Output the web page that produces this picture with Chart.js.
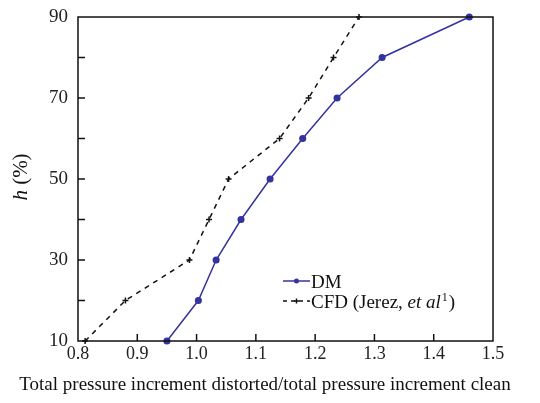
<!DOCTYPE html>
<html><head><meta charset="utf-8">
<script src="https://cdn.jsdelivr.net/npm/chart.js@4/dist/chart.umd.min.js"></script>
<style>html,body{margin:0;padding:0;background:#fff}#wrap{width:540px;height:403px}</style>
</head><body><div id="wrap"><canvas id="c" width="540" height="403"></canvas></div>
<script>
// Data
const hLevels = [10, 20, 30, 40, 50, 60, 70, 80, 90];
const dmX  = [0.950, 1.003, 1.033, 1.075, 1.124, 1.179, 1.237, 1.313, 1.460];
const cfdX = [0.812, 0.880, 0.988, 1.021, 1.054, 1.140, 1.189, 1.231, 1.274];
const yLabelTicks = [10, 30, 50, 70, 90];
const xTitle = 'Total pressure increment distorted/total pressure increment clean';
const dmLabel = 'DM';
const cfdLabelParts = ['CFD (Jerez, ', 'et al', '1', ')'];

const SERIF = '"Liberation Serif", "Times New Roman", serif';
const DM_COLOR = '#3434a0';
const CFD_COLOR = '#111111';

const toPts = (xs) => xs.map((x, i) => ({ x: x, y: hLevels[i] }));

const decor = {
  id: 'decor',
  afterDraw(chart) {
    const ctx = chart.ctx;
    const { left, right, top, bottom } = chart.chartArea;
    const xs = chart.scales.x, ys = chart.scales.y;
    ctx.save();
    // frame
    ctx.strokeStyle = '#111';
    ctx.lineWidth = 1.5;
    ctx.strokeRect(left, top, right - left, bottom - top);
    // inward ticks
    xs.ticks.forEach(t => {
      const px = xs.getPixelForValue(t.value);
      if (Math.abs(px - left) < 2 || Math.abs(px - right) < 2) return;
      ctx.beginPath(); ctx.moveTo(px, bottom); ctx.lineTo(px, bottom - 7); ctx.stroke();
    });
    ys.ticks.forEach(t => {
      const py = ys.getPixelForValue(t.value);
      if (Math.abs(py - top) < 2 || Math.abs(py - bottom) < 2) return;
      ctx.beginPath(); ctx.moveTo(left, py); ctx.lineTo(left + 7, py); ctx.stroke();
    });
    // x title
    ctx.fillStyle = '#111';
    ctx.font = '19px ' + SERIF;
    ctx.textAlign = 'center';
    ctx.textBaseline = 'middle';
    ctx.fillText(xTitle, 265, 385);
    // y title: italic h + " (%)"
    ctx.save();
    ctx.translate(21, 177);
    ctx.rotate(-Math.PI / 2);
    ctx.textAlign = 'left';
    ctx.font = 'italic 21px ' + SERIF;
    const wH = ctx.measureText('h').width;
    ctx.font = '21px ' + SERIF;
    const wRest = ctx.measureText(' (%)').width;
    let sx = -(wH + wRest) / 2;
    ctx.font = 'italic 21px ' + SERIF;
    ctx.fillText('h', sx, 0);
    ctx.font = '21px ' + SERIF;
    ctx.fillText(' (%)', sx + wH, 0);
    ctx.restore();
    // legend
    const lx0 = 283, lx1 = 310, ly1 = 281, ly2 = 301;
    ctx.strokeStyle = DM_COLOR; ctx.lineWidth = 1.5; ctx.setLineDash([]);
    ctx.beginPath(); ctx.moveTo(lx0, ly1); ctx.lineTo(lx1, ly1); ctx.stroke();
    ctx.fillStyle = DM_COLOR;
    ctx.beginPath(); ctx.arc((lx0 + lx1) / 2, ly1, 2.5, 0, Math.PI * 2); ctx.fill();
    ctx.strokeStyle = CFD_COLOR; ctx.setLineDash([4, 4]);
    ctx.beginPath(); ctx.moveTo(lx0, ly2); ctx.lineTo(lx1, ly2); ctx.stroke();
    ctx.setLineDash([]);
    const cx = (lx0 + lx1) / 2;
    ctx.beginPath(); ctx.moveTo(cx - 2.5, ly2); ctx.lineTo(cx + 2.5, ly2);
    ctx.moveTo(cx, ly2 - 2.5); ctx.lineTo(cx, ly2 + 2.5); ctx.stroke();
    ctx.fillStyle = '#111';
    ctx.textAlign = 'left'; ctx.textBaseline = 'alphabetic';
    ctx.font = '19px ' + SERIF;
    ctx.fillText(dmLabel, 311, ly1 + 7);
    let tx = 311;
    const by = ly2 + 7;
    ctx.font = '19px ' + SERIF; ctx.fillText(cfdLabelParts[0], tx, by); tx += ctx.measureText(cfdLabelParts[0]).width;
    ctx.font = 'italic 19px ' + SERIF; ctx.fillText(cfdLabelParts[1], tx, by); tx += ctx.measureText(cfdLabelParts[1]).width;
    ctx.font = '12px ' + SERIF; ctx.fillText(cfdLabelParts[2], tx + 1, by - 7); tx += ctx.measureText(cfdLabelParts[2]).width + 2;
    ctx.font = '19px ' + SERIF; ctx.fillText(cfdLabelParts[3], tx, by);
    ctx.restore();
  }
};

new Chart(document.getElementById('c'), {
  type: 'line',
  data: {
    datasets: [
      {
        label: 'DM', data: toPts(dmX), borderColor: DM_COLOR, backgroundColor: DM_COLOR,
        borderWidth: 1.5, pointRadius: 2.8, pointStyle: 'circle', tension: 0, clip: false
      },
      {
        label: 'CFD (Jerez, et al1)', data: toPts(cfdX), borderColor: CFD_COLOR, backgroundColor: CFD_COLOR,
        borderWidth: 1.5, borderDash: [5, 5], pointRadius: 3, pointStyle: 'cross', pointBorderWidth: 1.5,
        tension: 0, clip: false
      }
    ]
  },
  options: {
    responsive: false, animation: false, devicePixelRatio: 1,
    layout: { padding: { left: 0, right: 47, top: 17, bottom: 0 } },
    plugins: { legend: { display: false }, tooltip: { enabled: false } },
    scales: {
      x: {
        type: 'linear', min: 0.8, max: 1.5,
        grid: { display: false, drawTicks: false }, border: { display: false },
        ticks: { stepSize: 0.1, padding: 2, color: '#222', font: { family: SERIF, size: 18 },
          callback: v => Number(v).toFixed(1) },
        afterFit: s => { s.height = 62; }
      },
      y: {
        type: 'linear', min: 10, max: 90,
        grid: { display: false, drawTicks: false }, border: { display: false },
        ticks: { stepSize: 10, padding: 10, color: '#222', font: { family: SERIF, size: 19, lineHeight: 0.4 },
          callback: v => yLabelTicks.includes(Math.round(v)) ? String(Math.round(v)) : '' },
        afterFit: s => { s.width = 78; }
      }
    }
  },
  plugins: [decor]
});
</script>
</body></html>
